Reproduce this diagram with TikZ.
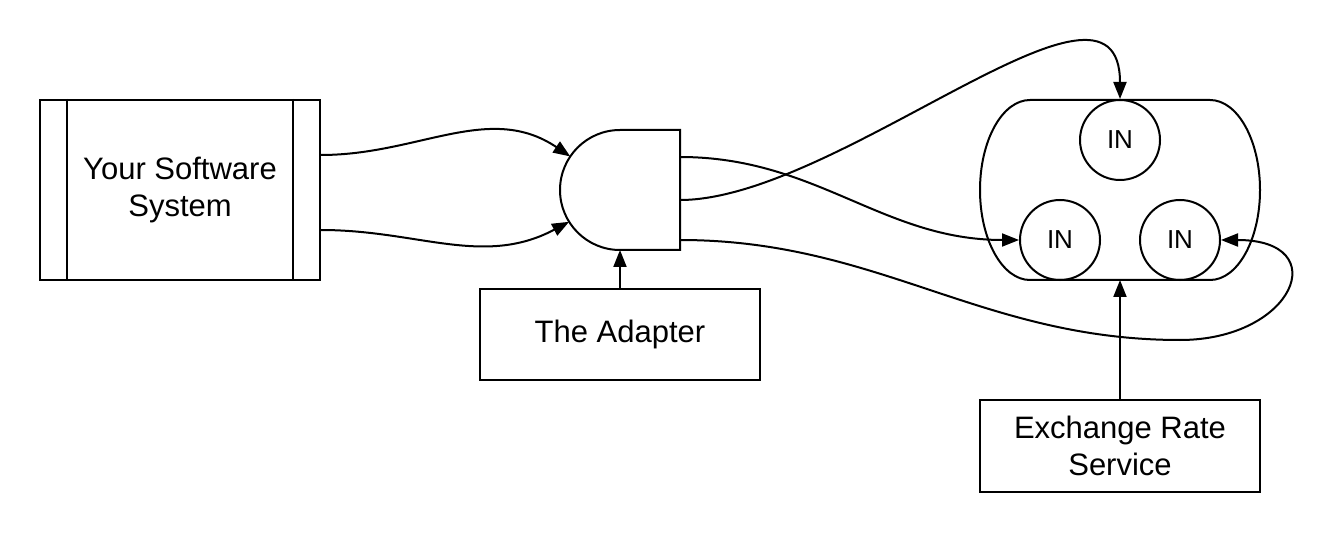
\documentclass[tikz,border=0pt]{standalone}
\usepackage{fontspec}
\setsansfont{Liberation Sans}
\usetikzlibrary{arrows.meta, calc}

\begin{document}
\begin{tikzpicture}[
    x=0.5pt, y=0.5pt,
    >={Triangle[length=8.5pt, width=6.5pt]},
    font=\sffamily\fontsize{15.5}{18.5}\selectfont,
    line width=1pt,
    box/.style={draw, line width=1pt, minimum width=140pt, align=center, inner sep=0pt},
    hole/.style={circle, minimum size=60pt, inner sep=0pt, outer sep=0pt},
    port/.style={draw, circle, line width=1pt, minimum size=40pt, inner sep=0pt,
                 font=\sffamily\fontsize{13}{15}\selectfont},
    wire/.style={->, line width=1pt},
]
\useasboundingbox (0,0) rectangle (1333,-534);

% the system on the left
\node[box, minimum height=90pt] (sys) at (180,-190) {Your Software\\ System};
\draw ([xshift=14pt]sys.north west) -- ([xshift=14pt]sys.south west);
\draw ([xshift=-14pt]sys.north east) -- ([xshift=-14pt]sys.south east);

% adapter plug
\node[hole] (adapter) at (620,-190) {};
\draw (adapter.north) -- (adapter.north -| adapter.east)
   -- (adapter.south -| adapter.east) -- (adapter.south)
   arc[start angle=270, end angle=90, radius=30pt] -- cycle;
\node[box, minimum height=45.5pt] (adbox) at (620,-334.5) {The Adapter};

% socket with three inputs
\node[minimum width=140pt, minimum height=90pt, inner sep=0pt, outer sep=0pt] (pool) at (1120,-190) {};
\draw ($(pool.north west)+(50,0)$) -- ($(pool.north east)+(-50,0)$)
   arc[start angle=90, end angle=-90, x radius=25pt, y radius=45pt]
   -- ($(pool.south west)+(50,0)$)
   arc[start angle=270, end angle=90, x radius=25pt, y radius=45pt] -- cycle;
\node[port] (inT) at (1120,-140) {IN};
\node[port] (inL) at (1060,-240) {IN};
\node[port] (inR) at (1180,-240) {IN};
\node[box, minimum height=46pt] (ers) at (1120,-446) {Exchange Rate\\ Service};

\coordinate (loop) at (1180,-340);

% connectors
\draw[wire] ($(sys.east)+(0,35)$) to[out=0, in=146] (adapter.146);
\draw[wire] ($(sys.east)+(0,-40)$) to[out=0, in=208] (adapter.212);
\draw[wire] (adbox.north) -- (adapter.south);
\draw[wire] ($(adapter.east)+(0,33)$) to[out=0, in=180] (inL.west);
\draw[wire] ($(adapter.east)+(0,-10)$) to[out=0, in=90, looseness=0.9] (inT.north);
\draw[wire] ($(adapter.east)+(0,-50)$) to[out=0, in=180] (loop)
   to[out=0, in=0, looseness=2.7] (inR.east);
\draw[wire] (ers.north) -- (pool.south);

\end{tikzpicture}
\end{document}
